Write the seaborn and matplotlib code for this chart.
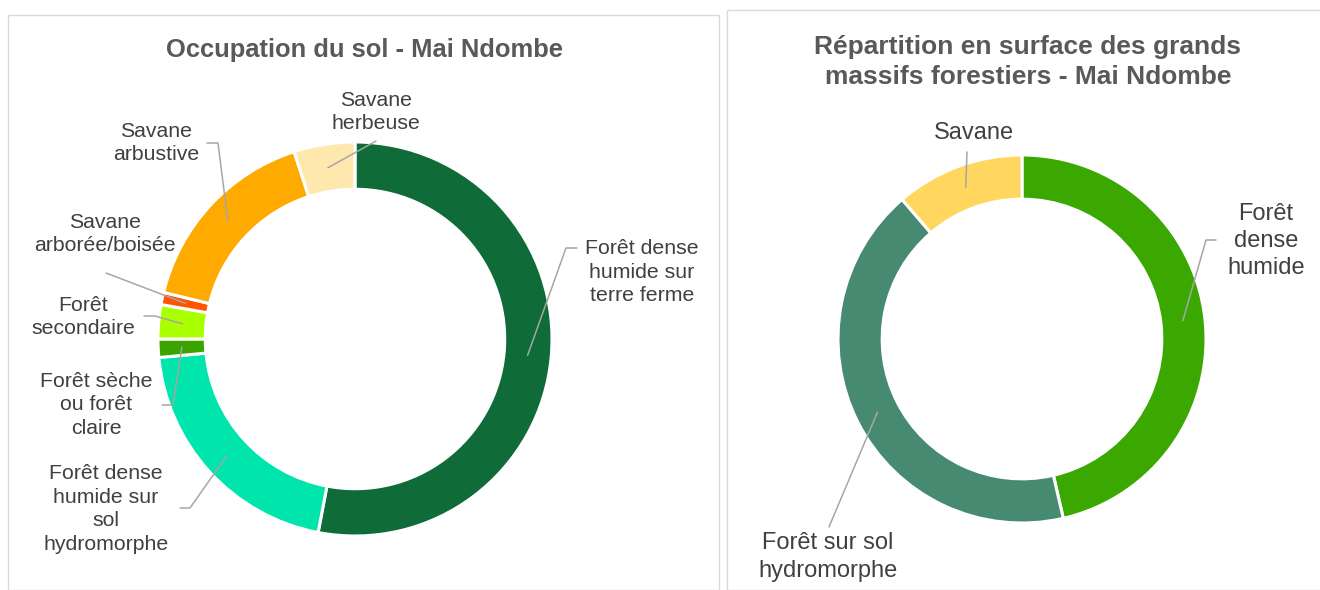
import numpy as np
import matplotlib
matplotlib.use("Agg")
import matplotlib.pyplot as plt
import seaborn as sns
from matplotlib.patches import Rectangle

# ── Data ──────────────────────────────────────────────────────────────────────
occ_title = "Occupation du sol - Mai Ndombe"
occ_labels = [
    "Forêt dense\nhumide sur\nterre ferme",
    "Forêt dense\nhumide sur\nsol\nhydromorphe",
    "Forêt sèche\nou forêt\nclaire",
    "Forêt\nsecondaire",
    "Savane\narborée/boisée",
    "Savane\narbustive",
    "Savane\nherbeuse",
]
occ_values = [53.0, 20.5, 1.5, 2.8, 1.0, 16.2, 5.0]
occ_colors = ["#0F6B37", "#00E5AC", "#3AA500", "#AAFF00", "#FF5500", "#FFAA00", "#FFE8AD"]

massif_title = "Répartition en surface des grands\nmassifs forestiers - Mai Ndombe"
massif_labels = ["Forêt\ndense\nhumide", "Forêt sur sol\nhydromorphe", "Savane"]
massif_values = [46.4, 42.3, 11.3]
massif_colors = ["#3AA800", "#478A72", "#FFD75E"]

# ── Layout (pixels, origin top-left) ──────────────────────────────────────────
W, H, DPI = 1320, 590, 100
RING = 0.24
LEADER = "#A6A6A6"
TXT = "#404040"

# per-label: text centre, leader start near the text, optional elbow
occ_layout = [
    ((642, 272), (577, 248), (566, 248)),
    ((106, 509), (180, 508), (190, 508)),
    ((96, 405), (162, 405), (173, 405)),
    ((83, 317), (144, 316), (155, 316)),
    ((105, 234), (106, 273), None),
    ((156, 143), (207, 143), (218, 143)),
    ((376, 112), (376, 141), None),
]
massif_layout = [
    ((1266, 241), (1216, 240), (1206, 240)),
    ((828, 557), (829, 527), None),
    ((974, 133), (967, 152), None),
]

sns.set_theme(style="white")
plt.rcParams["font.family"] = ["Liberation Sans", "DejaVu Sans"]

fig = plt.figure(figsize=(W / DPI, H / DPI), dpi=DPI)
fig.patch.set_facecolor("white")

# panel borders
fig.add_artist(Rectangle((8 / W, 0), (719 - 8) / W, 1 - 15 / H, transform=fig.transFigure,
                         fill=False, edgecolor="#D9D9D9", lw=1))
fig.add_artist(Rectangle((727 / W, 0), 1, 1 - 10 / H, transform=fig.transFigure,
                         fill=False, edgecolor="#D9D9D9", lw=1))


def donut(cx, cy, R, values, colors, labels, layout, fsize, lsp):
    ax = fig.add_axes([(cx - R) / W, (H - cy - R) / H, 2 * R / W, 2 * R / H])
    wedges, _ = ax.pie(values, colors=colors, startangle=90, counterclock=False,
                       radius=1, wedgeprops=dict(width=RING, edgecolor="white", linewidth=2.2))
    ax.set_xlim(-1, 1)
    ax.set_ylim(-1, 1)
    ax.axis("off")

    def to_data(p):
        return (p[0] - cx) / R, (cy - p[1]) / R

    for w, lab, (tpos, start, elbow) in zip(wedges, labels, layout):
        mid = np.deg2rad((w.theta1 + w.theta2) / 2)
        r = 1 - RING / 2
        pts = [to_data(start)]
        if elbow is not None:
            pts.append(to_data(elbow))
        pts.append((r * np.cos(mid), r * np.sin(mid)))
        xs, ys = zip(*pts)
        ax.plot(xs, ys, color=LEADER, lw=1.1, clip_on=False)
        fig.text(tpos[0] / W, 1 - tpos[1] / H, lab, ha="center", va="center",
                 fontsize=fsize, color=TXT, linespacing=lsp, multialignment="center")
    return ax


donut(355, 339, 197, occ_values, occ_colors, occ_labels, occ_layout, 15.3, 1.33)
donut(1022, 339, 184, massif_values, massif_colors, massif_labels, massif_layout, 17, 1.32)

fig.text(364 / W, 1 - 50 / H, occ_title, ha="center", va="center",
         fontsize=18.4, fontweight="bold", color="#595959")
fig.text(1028 / W, 1 - 62 / H, massif_title, ha="center", va="center",
         fontsize=19, fontweight="bold", color="#595959", linespacing=1.33)

fig.savefig("out.png", dpi=DPI)
